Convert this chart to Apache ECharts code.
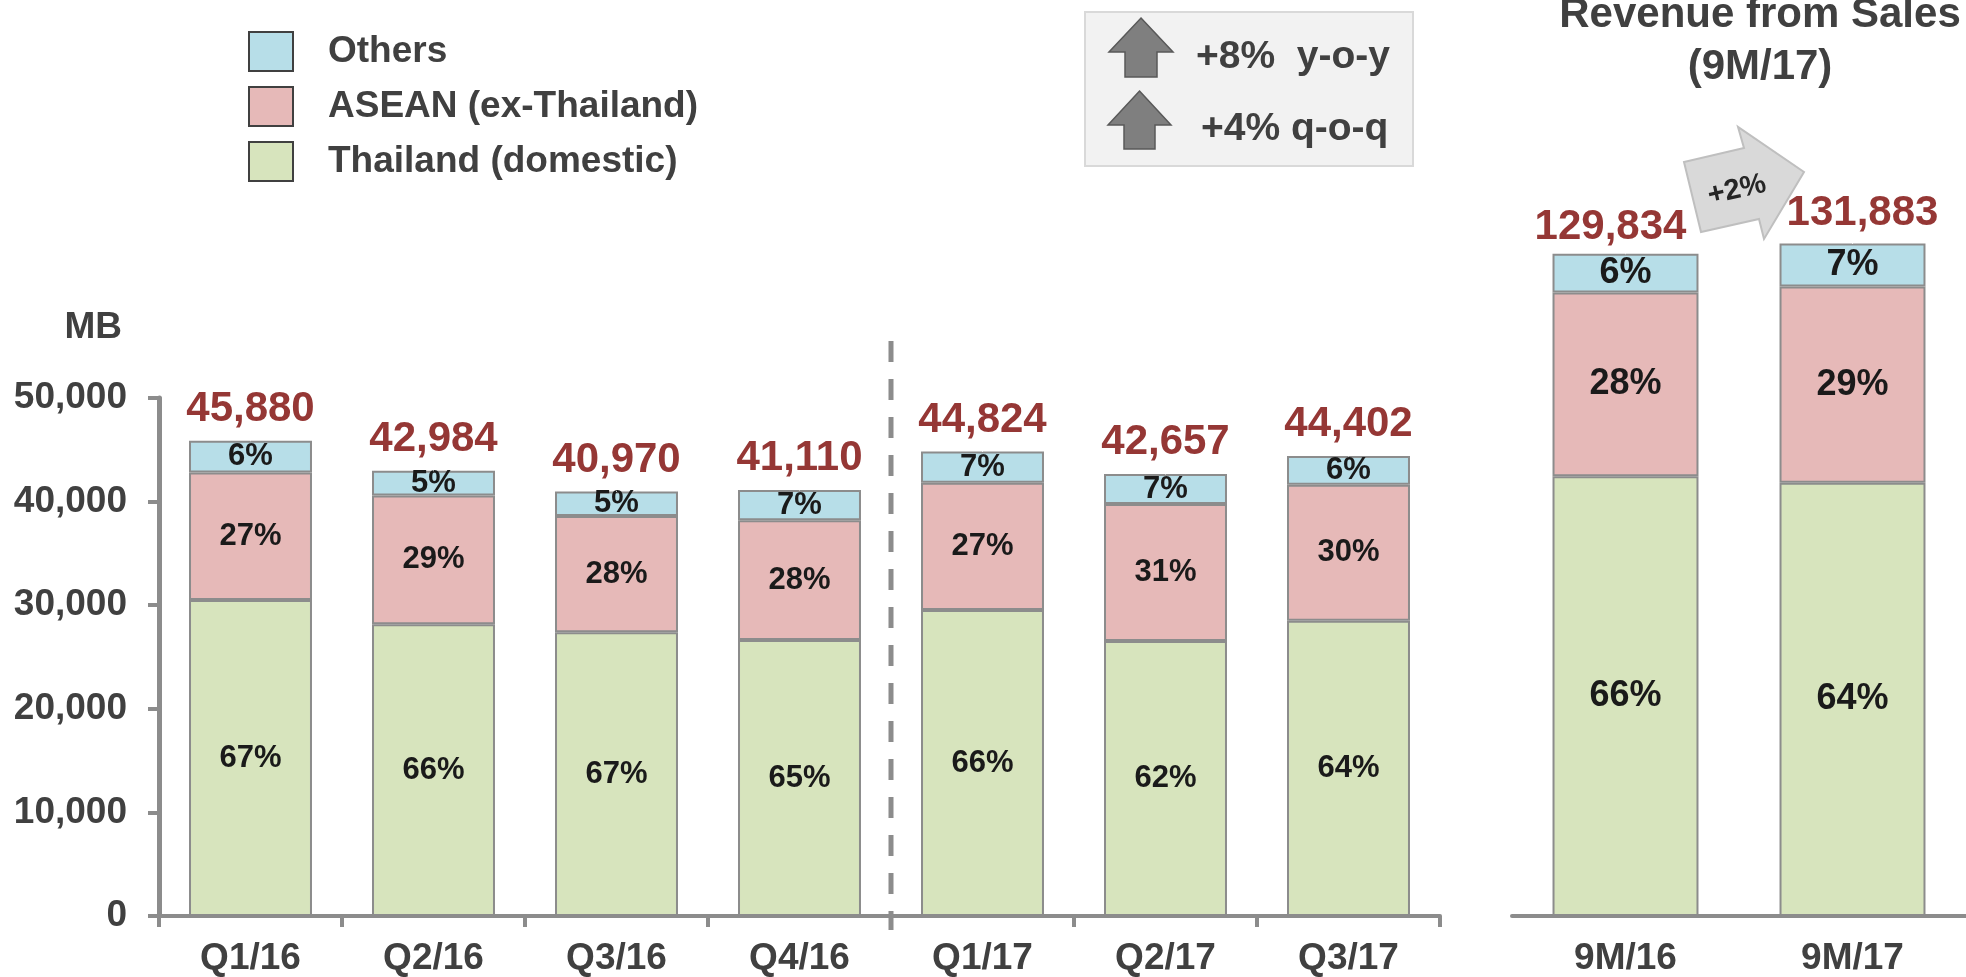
<!DOCTYPE html>
<html>
<head>
<meta charset="utf-8">
<script src="https://cdn.jsdelivr.net/npm/echarts@6/dist/echarts.min.js"></script>
<style>
  html, body { margin: 0; padding: 0; background: #ffffff; }
  #chart { width: 1966px; height: 977px; }
</style>
</head>
<body>
<div id="chart"></div>
<script>
// ---------- DATA ----------
const categories = ['Q1/16', 'Q2/16', 'Q3/16', 'Q4/16', 'Q1/17', 'Q2/17', 'Q3/17'];
const thailand   = [30510, 28173, 27385, 26644, 29529, 26548, 28490];
const asean      = [12307, 12404, 11235, 11556, 12298, 13212, 13145];
const others     = [3063, 2407, 2350, 2910, 2997, 2897, 2767];
const totals     = [45880, 42984, 40970, 41110, 44824, 42657, 44402];
const thailandPct = ['67%', '66%', '67%', '65%', '66%', '62%', '64%'];
const aseanPct    = ['27%', '29%', '28%', '28%', '27%', '31%', '30%'];
const othersPct   = ['6%', '5%', '5%', '7%', '7%', '7%', '6%'];

const periodCategories = ['9M/16', '9M/17'];
const thailand9M  = [86250, 84960];
const asean9M     = [35987, 38450];
const others9M    = [7597, 8473];
const totals9M    = [129834, 131883];
const thailand9MPct = ['66%', '64%'];
const asean9MPct    = ['28%', '29%'];
const others9MPct   = ['6%', '7%'];

const yTicks = [0, 10000, 20000, 30000, 40000, 50000];
const seriesNames = ['Others', 'ASEAN (ex-Thailand)', 'Thailand (domestic)'];

// ---------- STYLE ----------
const FONT = '"Liberation Sans", Arial, Helvetica, sans-serif';
const GREY_TEXT = '#404040';
const AXIS_GREY = '#8c8c8c';
const RED = '#953735';
const COLORS = { others: '#b7dee8', asean: '#e6b9b8', thailand: '#d7e4bd' };

function fmt(v) { return String(v).replace(/\B(?=(\d{3})+(?!\d))/g, ','); }

const chart = echarts.init(document.getElementById('chart'), null, { renderer: 'canvas' });

function segSeries(name, data, labels, color, xi, fontSize) {
  return {
    name: name, type: 'bar', stack: 'g' + xi, xAxisIndex: xi, yAxisIndex: xi,
    barWidth: xi === 0 ? '67.2%' : '64.3%',
    data: data,
    itemStyle: { color: color, borderColor: AXIS_GREY, borderWidth: 2 },
    label: {
      show: true, position: 'inside',
      formatter: p => labels[p.dataIndex],
      fontFamily: FONT, fontWeight: 'bold', fontSize: fontSize, color: '#1a1a1a'
    },
    emphasis: { disabled: true }
  };
}

function totalSeries(name, xi, data, distance) {
  return {
    name: name, type: 'scatter', xAxisIndex: xi, yAxisIndex: xi, z: 20,
    data: data, symbolSize: 1,
    itemStyle: { color: '#ffffff', opacity: 1 },
    silent: true,
    emphasis: { disabled: true },
    label: {
      show: true, position: 'top', distance: distance, opacity: 1,
      formatter: p => fmt(p.value),
      fontFamily: FONT, fontWeight: 'bold', fontSize: 42, color: RED
    }
  };
}

const option = {
  animation: false,
  backgroundColor: '#ffffff',
  textStyle: { fontFamily: FONT },
  legend: {
    data: seriesNames,
    orient: 'vertical',
    left: 243, top: 26,
    itemWidth: 44, itemHeight: 39, itemGap: 14,
    icon: 'rect',
    itemStyle: { borderColor: '#404040', borderWidth: 2 },
    textStyle: { fontFamily: FONT, fontWeight: 'bold', fontSize: 37, color: GREY_TEXT, padding: [0, 0, 0, 30] },
    selectedMode: false
  },
  grid: [
    { left: 159, top: 398, width: 1281, height: 520 },
    { left: 1512, top: 202, width: 460, height: 716 }
  ],
  xAxis: [
    {
      type: 'category', gridIndex: 0, data: categories,
      axisLine: { lineStyle: { color: AXIS_GREY, width: 4 } },
      axisTick: { show: true, length: 11, interval: 0, lineStyle: { color: AXIS_GREY, width: 4 } },
      axisLabel: { margin: 24, fontFamily: FONT, fontWeight: 'bold', fontSize: 37, color: GREY_TEXT, interval: 0 }
    },
    {
      type: 'category', gridIndex: 1, data: periodCategories,
      axisLine: { lineStyle: { color: AXIS_GREY, width: 4 } },
      axisTick: { show: false },
      axisLabel: { margin: 24, fontFamily: FONT, fontWeight: 'bold', fontSize: 37, color: GREY_TEXT, interval: 0 }
    }
  ],
  yAxis: [
    {
      type: 'value', gridIndex: 0, min: yTicks[0], max: yTicks[yTicks.length - 1], interval: yTicks[1] - yTicks[0],
      axisLine: { show: true, lineStyle: { color: AXIS_GREY, width: 5 } },
      axisTick: { show: true, length: 11, lineStyle: { color: AXIS_GREY, width: 4 } },
      splitLine: { show: false },
      axisLabel: { margin: 32, formatter: v => fmt(v), fontFamily: FONT, fontWeight: 'bold', fontSize: 37, color: GREY_TEXT }
    },
    {
      type: 'value', gridIndex: 1, min: 0, max: 140000, show: false, splitLine: { show: false }
    }
  ],
  series: [
    segSeries(seriesNames[2], thailand, thailandPct, COLORS.thailand, 0, 31),
    segSeries(seriesNames[1], asean, aseanPct, COLORS.asean, 0, 31),
    segSeries(seriesNames[0], others, othersPct, COLORS.others, 0, 31),
    segSeries(seriesNames[2], thailand9M, thailand9MPct, COLORS.thailand, 1, 36),
    segSeries(seriesNames[1], asean9M, asean9MPct, COLORS.asean, 1, 36),
    segSeries(seriesNames[0], others9M, others9MPct, COLORS.others, 1, 36),
    totalSeries('total', 0, totals, 10),
    totalSeries('total9M', 1, [
      { value: totals9M[0], label: { offset: [-15, 1] } },
      { value: totals9M[1], label: { offset: [10, -2] } }
    ], 6)
  ],
  graphic: [
    // separator between 2016 and 2017
    { type: 'line', silent: true, z: 5,
      shape: { x1: 891, y1: 341, x2: 891, y2: 930 },
      style: { stroke: AXIS_GREY, lineWidth: 5, lineDash: [21, 17] } },
    // MB unit
    { type: 'text', x: 122, y: 328, silent: true,
      style: { text: 'MB', font: 'bold 37px ' + FONT, fill: GREY_TEXT, align: 'right', verticalAlign: 'middle', textAlign: 'right', textVerticalAlign: 'middle' } },
    // growth box
    { type: 'rect', silent: true,
      shape: { x: 1085, y: 12, width: 328, height: 154 },
      style: { fill: '#f2f2f2', stroke: '#d9d9d9', lineWidth: 2 } },
    { type: 'polygon', silent: true,
      shape: { points: [[1141, 18], [1173, 52], [1157, 52], [1157, 77], [1125, 77], [1125, 52], [1109, 52]] },
      style: { fill: '#7f7f7f', stroke: '#595959', lineWidth: 1.5 } },
    { type: 'polygon', silent: true,
      shape: { points: [[1139.5, 91], [1171, 125], [1155, 125], [1155, 149], [1124, 149], [1124, 125], [1108, 125]] },
      style: { fill: '#7f7f7f', stroke: '#595959', lineWidth: 1.5 } },
    { type: 'text', x: 1196, y: 57, silent: true,
      style: { text: '+8%  y-o-y', font: 'bold 39px ' + FONT, fill: GREY_TEXT, align: 'left', verticalAlign: 'middle', textAlign: 'left', textVerticalAlign: 'middle' } },
    { type: 'text', x: 1201, y: 129, silent: true,
      style: { text: '+4% q-o-q', font: 'bold 39px ' + FONT, fill: GREY_TEXT, align: 'left', verticalAlign: 'middle', textAlign: 'left', textVerticalAlign: 'middle' } },
    // right panel title
    { type: 'text', x: 1760, y: 15, silent: true,
      style: { text: 'Revenue from Sales', font: 'bold 42px ' + FONT, fill: GREY_TEXT, align: 'center', verticalAlign: 'middle', textAlign: 'center', textVerticalAlign: 'middle' } },
    { type: 'text', x: 1760, y: 67, silent: true,
      style: { text: '(9M/17)', font: 'bold 42px ' + FONT, fill: GREY_TEXT, align: 'center', verticalAlign: 'middle', textAlign: 'center', textVerticalAlign: 'middle' } },
    // +2% arrow
    { type: 'polygon', silent: true, z: 10,
      shape: { points: [[1701, 232], [1684, 162], [1744, 148], [1738, 127], [1804, 172], [1764, 239], [1759, 219]] },
      style: { fill: '#d9d9d9', stroke: '#bfbfbf', lineWidth: 2 } },
    { type: 'text', x: 1737, y: 190, rotation: 0.22, silent: true, z: 11,
      style: { text: '+2%', font: 'bold 29px ' + FONT, fill: '#262626', align: 'center', verticalAlign: 'middle', textAlign: 'center', textVerticalAlign: 'middle' } }
  ]
};

chart.setOption(option);
</script>
</body>
</html>
